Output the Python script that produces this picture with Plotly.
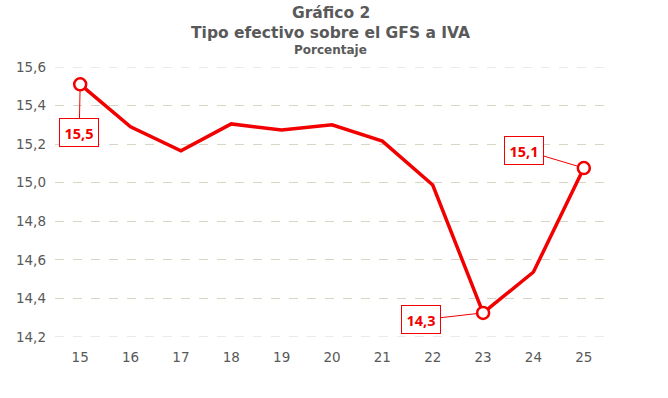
import plotly.graph_objects as go

years = [15, 16, 17, 18, 19, 20, 21, 22, 23, 24, 25]
tipo = [15.51, 15.29, 15.165, 15.305, 15.273, 15.30, 15.216, 14.988, 14.325, 14.537, 15.076]
y_ticks = [14.2, 14.4, 14.6, 14.8, 15.0, 15.2, 15.4, 15.6]
labelled = {15: "15,5", 23: "14,3", 25: "15,1"}
label_offsets = {15: (-1, 48), 23: (-62, 7), 25: (-60, -18)}

RED = "#F20000"
GREY = "#595959"
GRID = "#D9D5C6"
FONT = "DejaVu Sans"

fig = go.Figure()
fig.add_trace(go.Scatter(
    x=years, y=tipo, mode="lines",
    line=dict(color=RED, width=3.5),
    hoverinfo="skip", showlegend=False,
))
mx = [x for x in years if x in labelled]
my = [tipo[years.index(x)] for x in mx]
fig.add_trace(go.Scatter(
    x=mx, y=my, mode="markers",
    marker=dict(size=12, color="white", line=dict(color=RED, width=2.5)),
    hoverinfo="skip", showlegend=False,
))

# edge gridlines (plotly skips gridlines lying on the plot border)
for yv in (y_ticks[0], y_ticks[-1]):
    fig.add_shape(type="line", xref="paper", yref="y", x0=0, x1=1, y0=yv, y1=yv,
                  line=dict(color=GRID, width=1, dash="dash"), layer="below")

for x, txt in labelled.items():
    ax, ay = label_offsets[x]
    fig.add_annotation(
        x=x, y=tipo[years.index(x)], text="<b>%s</b>" % txt,
        showarrow=True, arrowhead=0, arrowwidth=1, arrowcolor=RED,
        ax=ax, ay=ay, standoff=5,
        width=38, height=27,
        font=dict(family="Noto Sans", size=14.5, color=RED),
        bgcolor="white", bordercolor=RED, borderwidth=1, borderpad=0,
    )

H = 270.0
def py(pix):
    return (337 - pix) / H

titles = [("<b>Gráfico 2</b>", 13, 15.5), ("<b>Tipo efectivo sobre el GFS a IVA</b>", 33, 15.5), ("<b>Porcentaje</b>", 50, 12)]
for txt, ypix, sz in titles:
    fig.add_annotation(
        xref="paper", yref="paper", x=0.498, y=py(ypix), text=txt,
        showarrow=False, xanchor="center", yanchor="middle",
        font=dict(family=FONT, size=sz, color=GREY),
    )

fig.update_layout(
    width=668, height=398,
    margin=dict(l=55, r=59, t=67, b=61),
    paper_bgcolor="white", plot_bgcolor="white",
    separators=",.",
    font=dict(family=FONT, size=13, color=GREY),
    xaxis=dict(
        range=[14.5, 25.5], tickmode="array", tickvals=years,
        showgrid=False, zeroline=False, showline=False, ticks="",
        tickfont=dict(size=13.5, color=GREY), ticklabelstandoff=10,
        automargin=False,
    ),
    yaxis=dict(
        range=[14.2, 15.6], tickmode="array", tickvals=y_ticks,
        tickformat=".1f", showgrid=True, gridcolor=GRID, gridwidth=1,
        griddash="dash", zeroline=False, showline=False, ticks="",
        tickfont=dict(size=13.5, color=GREY), ticklabelstandoff=8,
        automargin=False,
    ),
)

fig.write_html("out.html", config={"displayModeBar": False},
               post_script="document.body.style.margin='0';")
